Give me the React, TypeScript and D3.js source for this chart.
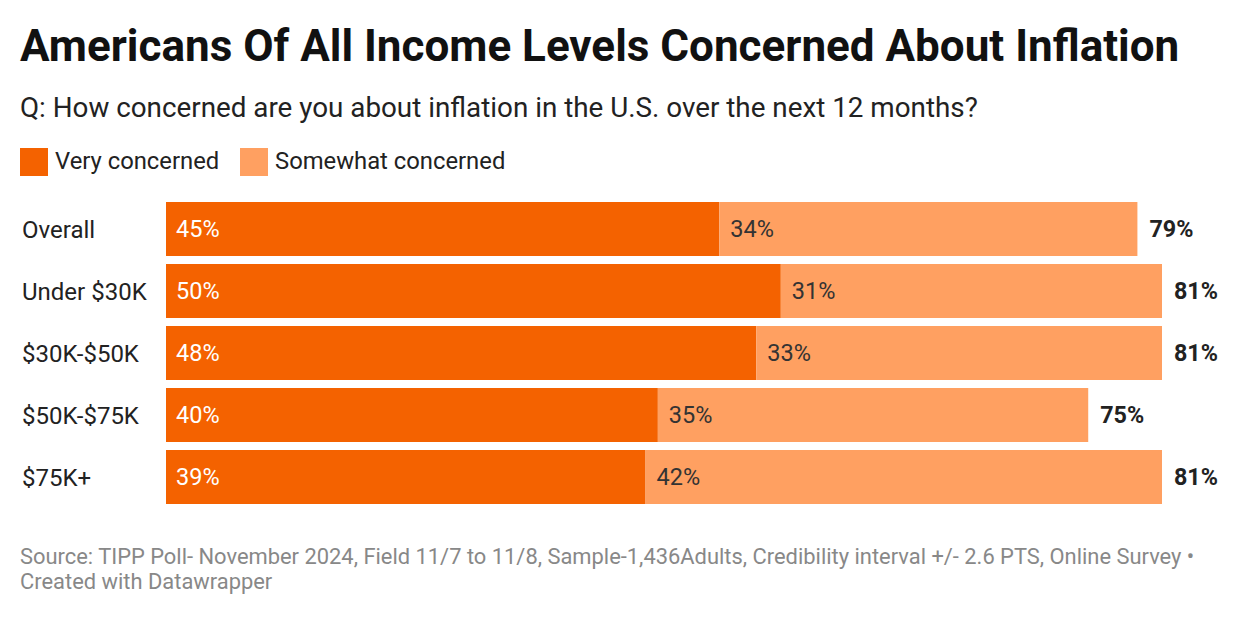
import React, { useEffect, useRef } from 'react';
import * as d3 from 'd3';

const categories = ['Overall', 'Under $30K', '$30K-$50K', '$50K-$75K', '$75K+'];
const veryConcerned = [45, 50, 48, 40, 39];
const somewhatConcerned = [34, 31, 33, 35, 42];
const totals = [79, 81, 81, 75, 81];
const seriesNames = ['Very concerned', 'Somewhat concerned'];

const VERY = '#f46200';
const SOMEWHAT = '#ffa061';
const FONT = 'Roboto, "Noto Sans", sans-serif';

const App: React.FC = () => {
  const svgRef = useRef<SVGSVGElement | null>(null);

  useEffect(() => {
    if (!svgRef.current) return;
    const svg = d3.select(svgRef.current);
    svg.selectAll('*').remove();

    const width = 1240;

    svg.append('rect').attr('width', width).attr('height', 618).attr('fill', '#fff');

    // header
    svg.append('text')
      .attr('x', 20).attr('y', 61)
      .attr('font-family', FONT).attr('font-size', 44).attr('font-weight', 700)
      .attr('fill', '#111')
      .text('Americans Of All Income Levels Concerned About Inflation');

    svg.append('text')
      .attr('x', 20).attr('y', 117)
      .attr('font-family', FONT).attr('font-size', 27.8)
      .attr('fill', '#222')
      .text('Q: How concerned are you about inflation in the U.S. over the next 12 months?');

    // legend
    const legendX = [20, 240];
    const colors = [VERY, SOMEWHAT];
    seriesNames.forEach((name, i) => {
      svg.append('rect')
        .attr('x', legendX[i]).attr('y', 148)
        .attr('width', 28).attr('height', 28)
        .attr('fill', colors[i]);
      svg.append('text')
        .attr('x', legendX[i] + 35).attr('y', 169)
        .attr('font-family', FONT).attr('font-size', 23.8)
        .attr('fill', '#222')
        .text(name);
    });

    // scales
    const x = d3.scaleLinear().domain([0, 81]).range([166, 1162]);
    const y = d3.scaleBand<string>()
      .domain(categories)
      .range([202, 202 + 62 * categories.length - 8])
      .paddingInner(8 / 62)
      .paddingOuter(0);

    const g = svg.append('g');

    categories.forEach((cat, i) => {
      const yy = y(cat) as number;
      const h = y.bandwidth();
      const mid = yy + h / 2;

      g.append('text')
        .attr('x', 22).attr('y', mid)
        .attr('dy', '0.36em')
        .attr('font-family', FONT).attr('font-size', 24)
        .attr('fill', '#222')
        .text(cat);

      g.append('rect')
        .attr('x', x(0)).attr('y', yy)
        .attr('width', x(veryConcerned[i]) - x(0)).attr('height', h)
        .attr('fill', VERY);

      g.append('rect')
        .attr('x', x(veryConcerned[i])).attr('y', yy)
        .attr('width', x(veryConcerned[i] + somewhatConcerned[i]) - x(veryConcerned[i])).attr('height', h)
        .attr('fill', SOMEWHAT);

      g.append('text')
        .attr('x', x(0) + 10).attr('y', mid)
        .attr('dy', '0.36em')
        .attr('font-family', FONT).attr('font-size', 23.5)
        .attr('fill', '#fff')
        .text(`${veryConcerned[i]}%`);

      g.append('text')
        .attr('x', x(veryConcerned[i]) + 11).attr('y', mid)
        .attr('dy', '0.36em')
        .attr('font-family', FONT).attr('font-size', 23.5)
        .attr('fill', '#333')
        .text(`${somewhatConcerned[i]}%`);

      g.append('text')
        .attr('x', x(totals[i]) + 12).attr('y', mid)
        .attr('dy', '0.36em')
        .attr('font-family', FONT).attr('font-size', 23.3).attr('font-weight', 700)
        .attr('fill', '#222')
        .text(`${totals[i]}%`);
    });

    // footer
    const footer = [
      'Source: TIPP Poll- November 2024, Field 11/7 to 11/8, Sample-1,436Adults, Credibility interval +/- 2.6 PTS, Online Survey \u2022',
      'Created with Datawrapper',
    ];
    footer.forEach((line, i) => {
      svg.append('text')
        .attr('x', 20).attr('y', 564 + i * 25)
        .attr('font-family', FONT).attr('font-size', 21.9)
        .attr('fill', '#888')
        .text(line);
    });
  }, []);

  return (
    <svg
      ref={svgRef}
      width={1240}
      height={618}
      style={{ display: 'block', position: 'absolute', left: 0, top: 0 }}
    />
  );
};

export default App;
